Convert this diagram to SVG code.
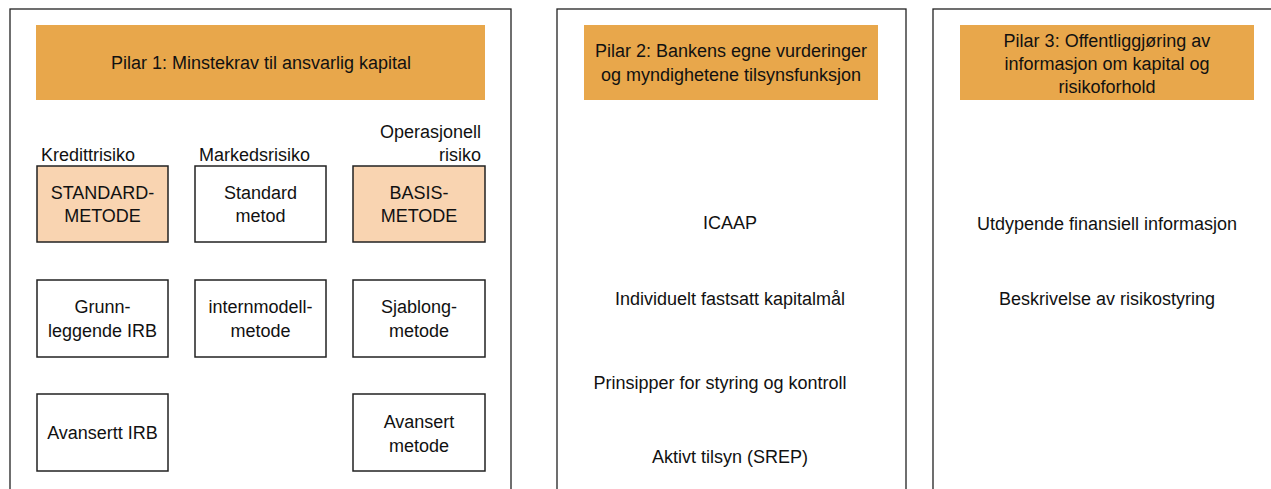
<svg xmlns="http://www.w3.org/2000/svg" width="1271" height="489" viewBox="0 0 1271 489">
<style>
text{font-family:"Liberation Sans",Arial,sans-serif;font-size:18px;fill:#111}
.panel{fill:#fff;stroke:#222;stroke-width:1.3}
.head{fill:#E8A74B}
.box{fill:#fff;stroke:#222;stroke-width:1.5}
.pk{fill:#F9D4B1}
.c{text-anchor:middle}
</style>
<rect width="1271" height="489" fill="#fff"/>
<g id="pilar1">
<rect class="panel" x="10" y="9" width="501" height="490"/>
<rect class="head" x="36" y="25" width="449" height="75"/>
<text class="c" x="261" y="69">Pilar 1: Minstekrav til ansvarlig kapital</text>
<text x="41" y="161">Kredittrisiko</text>
<text x="199" y="161">Markedsrisiko</text>
<text x="481" y="138" text-anchor="end">Operasjonell</text>
<text x="481" y="161" text-anchor="end">risiko</text>
</g>
<g id="n-standardmetode"><rect class="box pk" x="37" y="166" width="131" height="76"/><text class="c" x="102.5" y="199">STANDARD-</text><text class="c" x="102.5" y="222">METODE</text></g>
<g id="n-standardmetod"><rect class="box" x="195" y="166" width="131" height="76"/><text class="c" x="260.5" y="199">Standard</text><text class="c" x="260.5" y="222">metod</text></g>
<g id="n-basismetode"><rect class="box pk" x="353" y="166" width="132" height="76"/><text class="c" x="419" y="199">BASIS-</text><text class="c" x="419" y="222">METODE</text></g>
<g id="n-grunnleggende"><rect class="box" x="37" y="280" width="131" height="77"/><text class="c" x="102.5" y="313">Grunn-</text><text class="c" x="102.5" y="337">leggende IRB</text></g>
<g id="n-internmodell"><rect class="box" x="195" y="280" width="131" height="77"/><text class="c" x="260.5" y="313">internmodell-</text><text class="c" x="260.5" y="337">metode</text></g>
<g id="n-sjablong"><rect class="box" x="353" y="280" width="132" height="77"/><text class="c" x="419" y="313">Sjablong-</text><text class="c" x="419" y="337">metode</text></g>
<g id="n-avansertt-irb"><rect class="box" x="37" y="394" width="131" height="77"/><text class="c" x="102.5" y="439">Avansertt IRB</text></g>
<g id="n-avansert-metode"><rect class="box" x="353" y="394" width="132" height="77"/><text class="c" x="419" y="428">Avansert</text><text class="c" x="419" y="452">metode</text></g>
<g id="pilar2">
<rect class="panel" x="557" y="9" width="349" height="490"/>
<rect class="head" x="584" y="25" width="294" height="75"/>
<text class="c" x="731" y="57">Pilar 2: Bankens egne vurderinger</text>
<text class="c" x="731" y="81">og myndighetene tilsynsfunksjon</text>
<text class="c" x="730" y="229">ICAAP</text>
<text class="c" x="730" y="305">Individuelt fastsatt kapitalmål</text>
<text class="c" x="720" y="389">Prinsipper for styring og kontroll</text>
<text class="c" x="730" y="463">Aktivt tilsyn (SREP)</text>
</g>
<g id="pilar3">
<rect class="panel" x="933" y="9" width="360" height="490"/>
<rect class="head" x="960" y="25" width="294" height="75"/>
<text class="c" x="1107" y="47">Pilar 3: Offentliggjøring av</text>
<text class="c" x="1107" y="70">informasjon om kapital og</text>
<text class="c" x="1107" y="93">risikoforhold</text>
<text class="c" x="1107" y="230">Utdypende finansiell informasjon</text>
<text class="c" x="1107" y="305">Beskrivelse av risikostyring</text>
</g>
<g id="connectors"></g>
</svg>
